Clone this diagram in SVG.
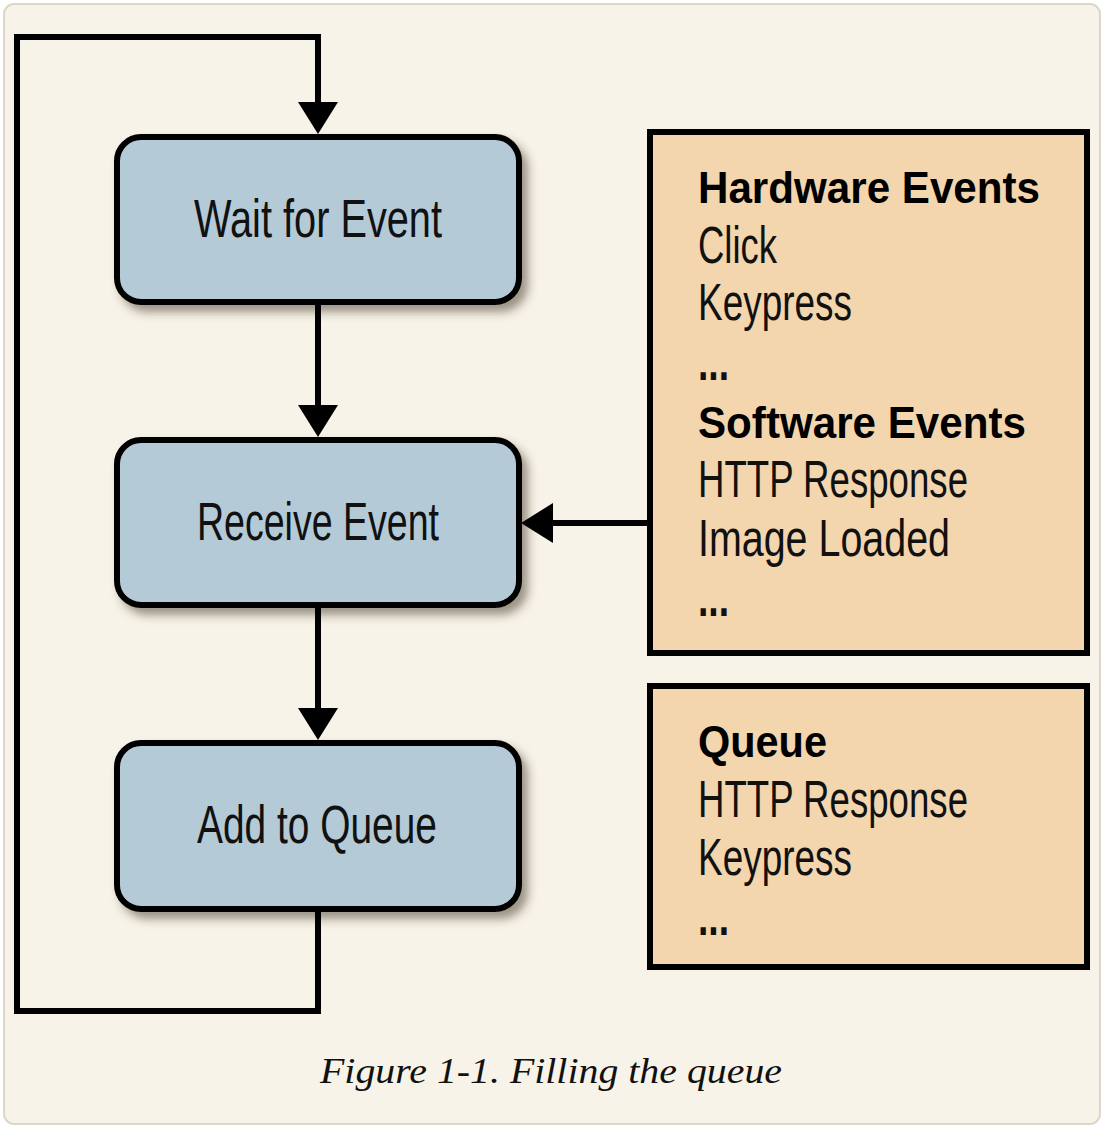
<svg xmlns="http://www.w3.org/2000/svg" width="1108" height="1128" viewBox="0 0 1108 1128">
  <style>
    .step { fill: #b4cad7; stroke: #000; stroke-width: 6; }
    .panel { fill: #f3d5ae; stroke: #000; stroke-width: 6; }
    .lbl { font-family: "Liberation Sans", Arial, sans-serif; font-size: 54px; fill: #111; }
    .item { font-family: "Liberation Sans", Arial, sans-serif; font-size: 52px; fill: #111; }
    .dots { font-family: "Liberation Sans", Arial, sans-serif; font-size: 52px; font-weight: bold; fill: #111; }
    .head { font-family: "Liberation Sans", Arial, sans-serif; font-size: 45px; font-weight: bold; fill: #000; }
    .cap { font-family: "Liberation Serif", "Times New Roman", serif; font-size: 35px; font-style: italic; fill: #111; }
    .wire { fill: none; stroke: #000; stroke-width: 6; stroke-linejoin: miter; }
  </style>
  <defs>
    <marker id="arrow" markerUnits="userSpaceOnUse" markerWidth="34" markerHeight="42" refX="22" refY="20" orient="auto" viewBox="0 0 34 42">
      <path d="M0,0 L32,20 L0,40 Z" fill="#000"/>
    </marker>
    <filter id="shadow" x="-10%" y="-10%" width="130%" height="140%">
      <feDropShadow dx="6" dy="7" stdDeviation="5" flood-color="#3a3020" flood-opacity="0.5"/>
    </filter>
  </defs>

  <rect x="0" y="0" width="1108" height="1128" fill="#ffffff"/>
  <rect id="frame" x="4" y="4" width="1096" height="1120" rx="10" fill="#f7f3e8" stroke="#dcd7c8" stroke-width="2"/>

  <g id="wait-for-event">
    <rect class="step" x="117" y="137" width="402" height="165" rx="24" filter="url(#shadow)"/>
    <text class="lbl" x="194" y="237" textLength="248" lengthAdjust="spacingAndGlyphs">Wait for Event</text>
  </g>
  <g id="receive-event">
    <rect class="step" x="117" y="440" width="402" height="165" rx="24" filter="url(#shadow)"/>
    <text class="lbl" x="197" y="540" textLength="242" lengthAdjust="spacingAndGlyphs">Receive Event</text>
  </g>
  <g id="add-to-queue">
    <rect class="step" x="117" y="743" width="402" height="166" rx="24" filter="url(#shadow)"/>
    <text class="lbl" x="197" y="843" textLength="240" lengthAdjust="spacingAndGlyphs">Add to Queue</text>
  </g>

  <g id="event-sources">
    <rect class="panel" x="650" y="132" width="437" height="521"/>
    <text class="head" x="698" y="203" textLength="342" lengthAdjust="spacingAndGlyphs">Hardware Events</text>
    <text class="item" x="698" y="263" textLength="79" lengthAdjust="spacingAndGlyphs">Click</text>
    <text class="item" x="698" y="320" textLength="154" lengthAdjust="spacingAndGlyphs">Keypress</text>
    <text class="dots" x="698" y="380" textLength="31" lengthAdjust="spacingAndGlyphs">...</text>
    <text class="head" x="698" y="438" textLength="328" lengthAdjust="spacingAndGlyphs">Software Events</text>
    <text class="item" x="698" y="497" textLength="270" lengthAdjust="spacingAndGlyphs">HTTP Response</text>
    <text class="item" x="698" y="556" textLength="252" lengthAdjust="spacingAndGlyphs">Image Loaded</text>
    <text class="dots" x="698" y="616" textLength="31" lengthAdjust="spacingAndGlyphs">...</text>
  </g>

  <g id="queue">
    <rect class="panel" x="650" y="686" width="437" height="281"/>
    <text class="head" x="698" y="757" textLength="129" lengthAdjust="spacingAndGlyphs">Queue</text>
    <text class="item" x="698" y="817" textLength="270" lengthAdjust="spacingAndGlyphs">HTTP Response</text>
    <text class="item" x="698" y="875" textLength="154" lengthAdjust="spacingAndGlyphs">Keypress</text>
    <text class="dots" x="698" y="935" textLength="31" lengthAdjust="spacingAndGlyphs">...</text>
  </g>

  <g id="connectors">
    <path class="wire" d="M318,912 V1011 H17 V37 H318 V124" marker-end="url(#arrow)"/>
    <path class="wire" d="M318,305 V427" marker-end="url(#arrow)"/>
    <path class="wire" d="M318,608 V730" marker-end="url(#arrow)"/>
    <path class="wire" d="M650,523 H531" marker-end="url(#arrow)"/>
  </g>

  <text id="caption" class="cap" x="320" y="1083" textLength="462" lengthAdjust="spacingAndGlyphs">Figure 1-1. Filling the queue</text>
</svg>
